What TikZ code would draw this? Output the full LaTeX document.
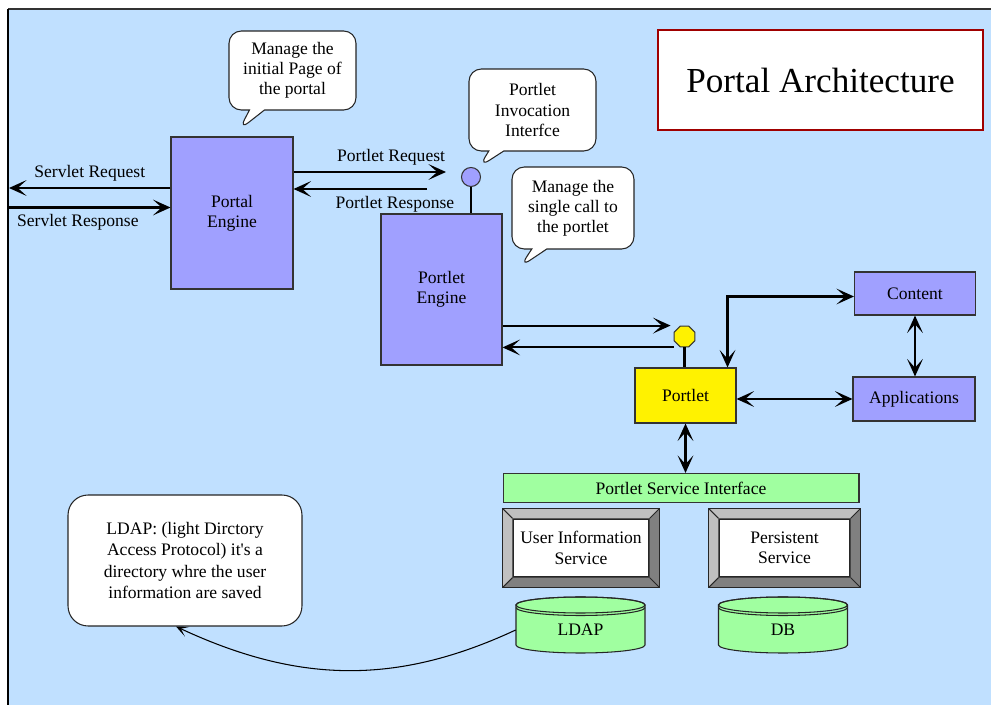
\documentclass[tikz,border=0pt]{standalone}
\usepackage{fontspec}
\setmainfont{Liberation Serif}
\usetikzlibrary{arrows.meta,shapes.callouts,shapes.geometric,calc}

\definecolor{bgblue}{HTML}{C0E0FF}
\definecolor{engine}{HTML}{A0A0FF}
\definecolor{store}{HTML}{A0FFA0}
\definecolor{titlered}{HTML}{A00000}
\definecolor{bevlight}{HTML}{C0C0C0}
\definecolor{bevdark}{HTML}{808080}

\begin{document}
\begin{tikzpicture}[x=0.02cm, y=-0.02cm, >={Stealth[length=10pt,width=9pt,inset=5pt]},
    every node/.style={font=\fontsize{10}{11.5}\selectfont},
    box/.style={draw=black!80, line width=0.6pt, fill=engine, align=center},
    note/.style={rectangle callout, draw=black!85, line width=0.6pt, fill=white, rounded corners=7pt, align=center, callout pointer width=0.3cm},
    flow/.style={line width=1.2pt}]
        % page
        \useasboundingbox (0,0) rectangle (991,705);
        \fill[bgblue] (8,9) rectangle (991,705);
        \draw[black!80, line width=0.8pt] (991,9) -- (8,9);
        \draw[line width=1.2pt] (8,705) -- (8,9);
        \node[draw=titlered, line width=1.2pt, fill=white, minimum width=6.5cm, minimum height=2cm, font=\fontsize{20}{24}\selectfont] (title) at (820.5,80) {Portal Architecture};

        % engines and portlet
        \node[box, minimum width=2.44cm, minimum height=3.04cm] (portal) at (232,213) {Portal\\Engine};
        \node[box, minimum width=2.42cm, minimum height=3.02cm] (engine) at (441.5,289.5) {Portlet\\Engine};
        \node[box, fill=yellow, minimum width=2.02cm, minimum height=1.1cm] (portlet) at (685.5,395.5) {Portlet};
        \node[box, minimum width=2.42cm, minimum height=0.86cm] (content) at (915,293.5) {Content};
        \node[box, minimum width=2.44cm, minimum height=0.88cm] (apps) at (914,399) {Applications};
        \node[box, fill=store, minimum width=7.12cm, minimum height=0.58cm] (psi) at (681,488) {Portlet Service Interface};
        \node[circle, draw=black!80, line width=0.6pt, fill=engine, minimum size=0.38cm, inner sep=0pt] (pii) at (471,177) {};
        \node[regular polygon, regular polygon sides=8, draw=black!80, line width=0.6pt, fill=yellow, minimum size=0.45cm, inner sep=0pt] (pif) at (684.5,336.5) {};

        % callouts
        \coordinate (t1) at (239,130);
        \coordinate (t2) at (479,167);
        \coordinate (t3) at (520,267);
        \node[note, minimum width=2.54cm, minimum height=1.58cm, callout absolute pointer={(t1)}] (n1) at (292.5,70.5) {Manage the\\initial Page of\\the portal};
        \node[note, minimum width=2.54cm, minimum height=1.64cm, callout absolute pointer={(t2)}] (n2) at (532.5,110) {Portlet\\Invocation\\Interfce};
        \node[note, minimum width=2.44cm, minimum height=1.64cm, callout absolute pointer={(t3)}] (n3) at (573,208) {Manage the\\single call to\\the portlet};
        \node[draw=black!85, line width=0.6pt, fill=white, rounded corners=0.4cm, align=center, minimum width=4.68cm, minimum height=2.62cm, font=\fontsize{10}{12}\selectfont] (ldapnote) at (185,560.5) {LDAP: (light Dirctory\\Access Protocol) it\textquotesingle s a\\directory whre the user\\information are saved};

        % services
        \node[draw=black!85, line width=0.6pt, fill=white, minimum width=2.72cm, minimum height=1.16cm, align=center] (uis) at (581,548) {User Information\\Service};
        \node[draw=black!85, line width=0.6pt, fill=white, minimum width=2.62cm, minimum height=1.16cm, align=center] (pers) at (784.5,548) {Persistent\\Service};
        \foreach \b in {uis,pers} {
            \fill[bevlight] ($(\b.north west)+(-10,-10)$) -- ($(\b.north east)+(10,-10)$) -- (\b.north east) -- (\b.north west) -- (\b.south west) -- ($(\b.south west)+(-10,10)$) -- cycle;
            \fill[bevdark] ($(\b.south west)+(-10,10)$) -- ($(\b.south east)+(10,10)$) -- ($(\b.north east)+(10,-10)$) -- (\b.north east) -- (\b.south east) -- (\b.south west) -- cycle;
            \draw[black!85, line width=0.6pt] ($(\b.north west)+(-10,-10)$) rectangle ($(\b.south east)+(10,10)$);
            \draw[black!85, line width=0.6pt] ($(\b.north west)+(-10,-10)$) -- (\b.north west) ($(\b.north east)+(10,-10)$) -- (\b.north east)
                ($(\b.south west)+(-10,10)$) -- (\b.south west) ($(\b.south east)+(10,10)$) -- (\b.south east);
        }

        % stores
        \foreach \nm/\cx/\lbl in {ldap/580.5/LDAP, db/783/DB} {
            \draw[black!85, line width=0.6pt, fill=store] (\cx-64.5,605) -- (\cx-64.5,645) arc[start angle=180, end angle=360, x radius=1.29cm, y radius=0.16cm] -- (\cx+64.5,605) arc[start angle=0, end angle=180, x radius=1.29cm, y radius=0.16cm] -- cycle;
            \draw[black!85, line width=0.6pt] (\cx,605) ellipse[x radius=1.29cm, y radius=0.16cm];
            \draw[black!85, line width=0.6pt] (\cx-64.5,607.5) arc[start angle=180, end angle=360, x radius=1.29cm, y radius=0.16cm];
            \node[minimum width=2.58cm, minimum height=0.8cm] (\nm) at (\cx,630) {\lbl};
        }

        % requests and responses
        \coordinate (sreq) at (9,188);
        \coordinate (sres) at (8,207.5);
        \coordinate (preq) at (446,172);
        \coordinate (pres) at (427,189);
        \draw[flow, ->] (portal.west |- sreq) -- (sreq) node[midway, above] {Servlet Request};
        \draw[flow, ->] (sres) -- (portal.west |- sres) node[pos=0.43, below] {Servlet Response};
        \draw[flow, ->] (portal.east |- preq) -- (preq) node[pos=0.64, above] {Portlet Request};
        \draw[flow, ->] (pres) -- (portal.east |- pres) node[pos=0.24, below] {Portlet Response};
        \draw[flow] (pii) -- (pii |- engine.north);
        \draw[flow, ->] (engine.east |- pif.north) -- ($(pif.west |- pif.north)+(-3,0)$);
        \draw[flow, ->] (pif.west |- pif.south) -- (engine.east |- pif.south);
        \draw[flow] (pif) -- (pif |- portlet.north);
        \draw[flow, <->] ([yshift=-0.06cm]content.west) -| ($(portlet.north east)+(-9,0)$);
        \draw[flow, <->] (content.south) -- (content.south |- apps.north);
        \draw[flow, <->] (portlet.east |- apps.west) -- (apps.west);
        \draw[flow, <->] (portlet.south) -- (portlet.south |- psi.north);
        \draw[line width=0.6pt, -{Stealth[length=7pt,width=6pt,inset=4pt]}] (ldap.west) to[out=205, in=-25] ($(ldapnote.south)+(-9,0)$);
    \end{tikzpicture}
\end{document}
